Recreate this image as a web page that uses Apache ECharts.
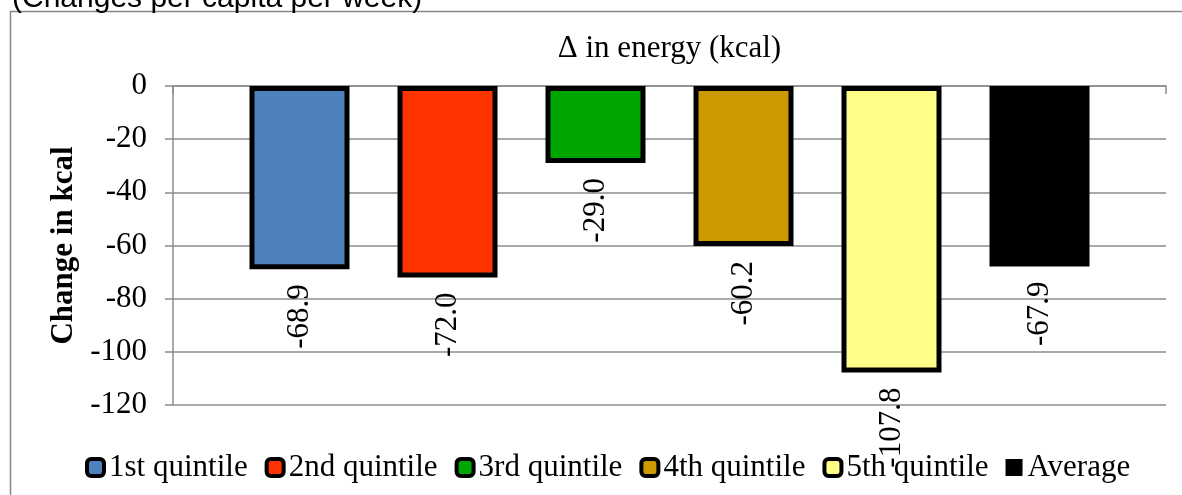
<!DOCTYPE html>
<html>
<head>
<meta charset="utf-8">
<script src="https://cdn.jsdelivr.net/npm/echarts@6/dist/echarts.min.js"></script>
<style>html,body{margin:0;padding:0;background:#fff;}#c{width:1182px;height:495px;}</style>
</head>
<body>
<div id="c"></div>
<script>
const categories = ['\u0394 in energy (kcal)'];
const seriesNames = ['1st quintile', '2nd quintile', '3rd quintile', '4th quintile', '5th quintile', 'Average'];
const seriesValues = [-68.9, -72.0, -29.0, -60.2, -107.8, -67.9];
const seriesColors = ['#4F81BD', '#FF3300', '#00A600', '#CC9900', '#FFFF88', '#000000'];
const yTicks = { min: -120, max: 0, interval: 20 };

const serif = '"Liberation Serif", "Times New Roman", serif';
const gray = '#8C8C8C';
const chart = echarts.init(document.getElementById('c'), null, { renderer: 'canvas' });

const series = seriesNames.map((name, i) => ({
  name: name,
  type: 'bar',
  barWidth: 100,
  barGap: '48%',
  data: [seriesValues[i]],
  itemStyle: {
    color: seriesColors[i],
    borderColor: '#000',
    borderWidth: name === 'Average' ? 0 : 5
  },
  label: {
    show: true,
    position: 'bottom',
    distance: 15,
    rotate: 90,
    align: 'right',
    verticalAlign: 'middle',
    fontFamily: serif,
    fontSize: 31,
    color: '#000',
    formatter: p => p.value.toFixed(1)
  }
}));

chart.setOption({
  animation: false,
  backgroundColor: '#fff',
  graphic: [
    { type: 'rect', shape: { x: 10.5, y: 11.5, width: 1300, height: 700 },
      style: { fill: 'none', stroke: '#868686', lineWidth: 1.5 }, silent: true },
    { type: 'text', left: 12, top: -16,
      style: { text: '(Changes per capita per week)', font: '30px "Liberation Sans", Arial, sans-serif', fill: '#000' } }
  ],
  grid: { left: 173, right: 16, top: 86, bottom: 90 },
  legend: {
    top: 447,
    left: 80,
    itemWidth: 17,
    itemHeight: 17,
    itemGap: 17,
    icon: 'roundRect',
    textStyle: { fontFamily: serif, fontSize: 31, color: '#000' },
    data: seriesNames.map(n => ({
      name: n,
      icon: n === 'Average' ? 'rect' : 'roundRect',
      itemStyle: n === 'Average' ? { borderWidth: 0 } : { borderWidth: 4, borderColor: '#000' }
    }))
  },
  xAxis: {
    type: 'category',
    position: 'top',
    data: categories,
    axisLine: { show: true, lineStyle: { color: gray, width: 1.5 } },
    axisTick: { show: true, inside: true, length: 8, lineStyle: { color: gray, width: 1.5 } },
    axisLabel: { margin: 22, fontFamily: serif, fontSize: 31, color: '#000' }
  },
  yAxis: {
    type: 'value',
    min: yTicks.min,
    max: yTicks.max,
    interval: yTicks.interval,
    name: 'Change in kcal',
    nameLocation: 'middle',
    nameGap: 90,
    nameTextStyle: { fontFamily: serif, fontSize: 31, fontWeight: 'bold', color: '#000' },
    axisLine: { show: true, lineStyle: { color: gray, width: 1.5 } },
    axisTick: { show: true, inside: false, length: 8, lineStyle: { color: gray, width: 1.5 } },
    axisLabel: { margin: 26, fontFamily: serif, fontSize: 31, color: '#000' },
    splitLine: { show: true, lineStyle: { color: gray, width: 1.5 } }
  },
  series: series
});
</script>
</body>
</html>
